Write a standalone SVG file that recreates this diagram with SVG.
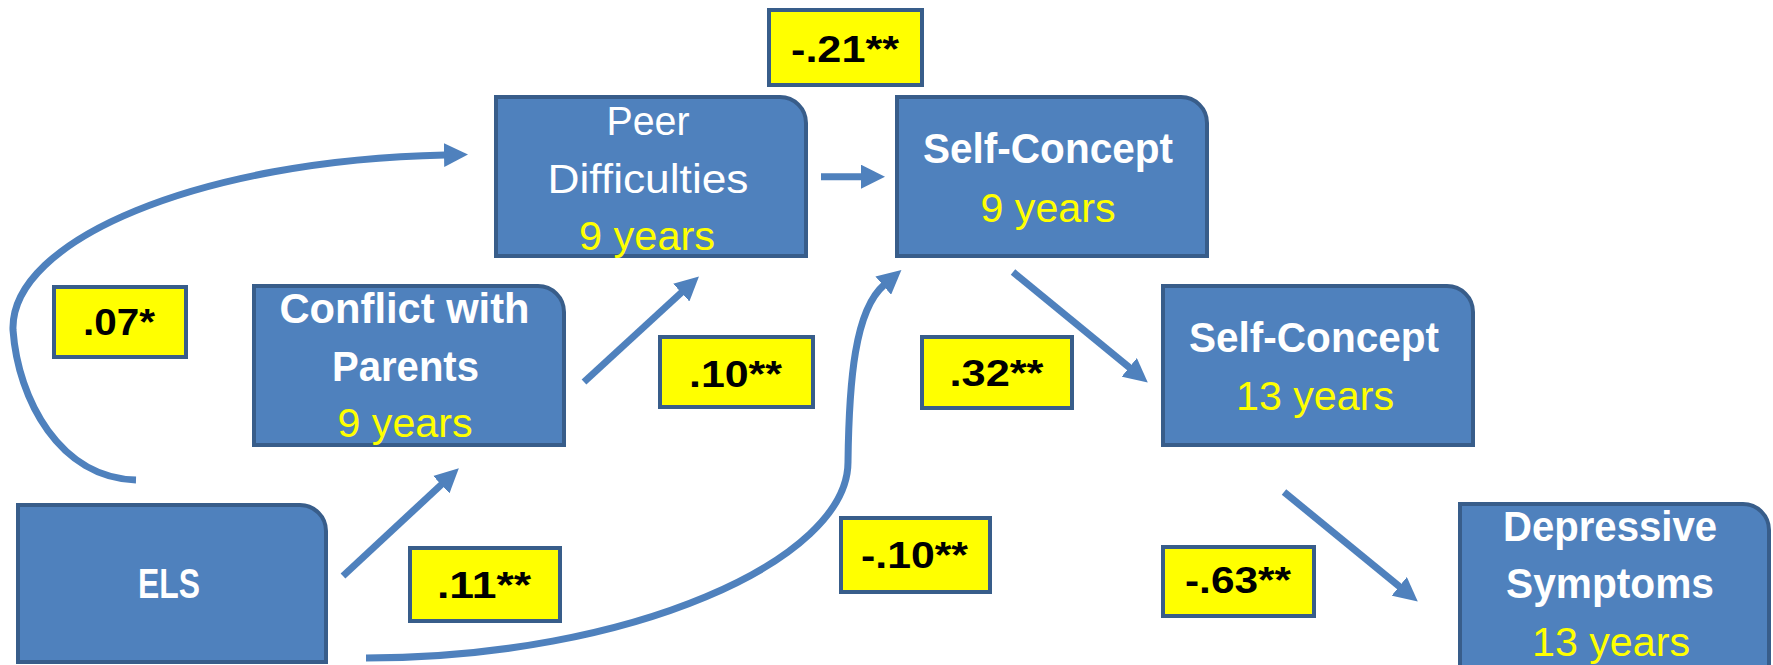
<svg xmlns="http://www.w3.org/2000/svg" width="1773" height="665" viewBox="0 0 1773 665">
<style>
.node{fill:#4F81BD;stroke:#385D8A;stroke-width:4}
.lab{fill:#FFFF00;stroke:#385D8A;stroke-width:4}
.t{font-family:'Liberation Sans Narrow','Liberation Sans',Arial,sans-serif;text-anchor:middle}
.w{fill:#FFFFFF;font-size:40px}
.wb{fill:#FFFFFF;font-size:42px;font-weight:bold}
.y{fill:#FFFF00;font-size:40px}
.k{fill:#000000;font-size:36px;font-weight:bold}
.c{fill:none;stroke:#4F81BD;stroke-width:7}
</style>
<defs>
<marker id="ah" markerUnits="userSpaceOnUse" markerWidth="24" markerHeight="24" refX="1" refY="12" orient="auto">
<path d="M0,0 L24,12 L0,24 z" fill="#4F81BD"/>
</marker>
</defs>
<rect width="1773" height="665" fill="#FFFFFF"/>
<g id="connectors">
<line class="c" x1="821" y1="176.7" x2="862" y2="176.7" marker-end="url(#ah)"/>
<line class="c" x1="584" y1="382" x2="682" y2="292" marker-end="url(#ah)"/>
<line class="c" x1="343" y1="576" x2="442" y2="484" marker-end="url(#ah)"/>
<line class="c" x1="1013" y1="272" x2="1130" y2="368" marker-end="url(#ah)"/>
<line class="c" x1="1284" y1="492" x2="1400" y2="587" marker-end="url(#ah)"/>
<path class="c" d="M136,480 C60,478 18,400 13,330 C10,240 200,160 445,155" marker-end="url(#ah)"/>
<path class="c" d="M366,658 C630,658 848,560 848,462 C849,380 855,310 884,285" marker-end="url(#ah)"/>
</g>
<g id="node-peer">
<path class="node" d="M496,97 H780 A26,26 0 0 1 806,123 V256 H496 Z"/>
<text class="t w" x="648" y="135" textLength="83" lengthAdjust="spacingAndGlyphs">Peer</text>
<text class="t w" x="648" y="193" textLength="201" lengthAdjust="spacingAndGlyphs">Difficulties</text>
<text class="t y" x="647" y="250" textLength="136" lengthAdjust="spacingAndGlyphs">9 years</text>
</g>
<g id="node-sc9">
<path class="node" d="M897,97 H1181 A26,26 0 0 1 1207,123 V256 H897 Z"/>
<text class="t wb" x="1048" y="163" textLength="250" lengthAdjust="spacingAndGlyphs">Self-Concept</text>
<text class="t y" x="1048" y="222" textLength="135" lengthAdjust="spacingAndGlyphs">9 years</text>
</g>
<g id="node-conflict">
<path class="node" d="M254,286 H538 A26,26 0 0 1 564,312 V445 H254 Z"/>
<text class="t wb" x="404.5" y="323" textLength="250" lengthAdjust="spacingAndGlyphs">Conflict with</text>
<text class="t wb" x="405.5" y="381" textLength="147" lengthAdjust="spacingAndGlyphs">Parents</text>
<text class="t y" x="405" y="437" textLength="135" lengthAdjust="spacingAndGlyphs">9 years</text>
</g>
<g id="node-sc13">
<path class="node" d="M1163,286 H1447 A26,26 0 0 1 1473,312 V445 H1163 Z"/>
<text class="t wb" x="1314" y="352" textLength="250" lengthAdjust="spacingAndGlyphs">Self-Concept</text>
<text class="t y" x="1315" y="410" textLength="158" lengthAdjust="spacingAndGlyphs">13 years</text>
</g>
<g id="node-els">
<path class="node" d="M18,505 H300 A26,26 0 0 1 326,531 V662 H18 Z"/>
<text class="t wb" x="169" y="598" textLength="62" lengthAdjust="spacingAndGlyphs">ELS</text>
</g>
<g id="node-depressive">
<path class="node" d="M1460,504 H1743 A26,26 0 0 1 1769,530 V680 H1460 Z"/>
<text class="t wb" x="1610" y="541" textLength="214" lengthAdjust="spacingAndGlyphs">Depressive</text>
<text class="t wb" x="1610" y="598" textLength="208" lengthAdjust="spacingAndGlyphs">Symptoms</text>
<text class="t y" x="1611" y="656" textLength="158" lengthAdjust="spacingAndGlyphs">13 years</text>
</g>
<g id="label-m21">
<rect class="lab" x="769" y="10" width="153" height="75"/>
<text class="t k" x="845" y="62" textLength="108" lengthAdjust="spacingAndGlyphs">-.21**</text>
</g>
<g id="label-07">
<rect class="lab" x="54" y="287" width="132" height="70"/>
<text class="t k" x="119" y="335" textLength="72" lengthAdjust="spacingAndGlyphs">.07*</text>
</g>
<g id="label-10">
<rect class="lab" x="660" y="337" width="153" height="70"/>
<text class="t k" x="735.5" y="387" textLength="93" lengthAdjust="spacingAndGlyphs">.10**</text>
</g>
<g id="label-11">
<rect class="lab" x="410" y="548" width="150" height="73"/>
<text class="t k" x="484" y="598" textLength="94" lengthAdjust="spacingAndGlyphs">.11**</text>
</g>
<g id="label-m10">
<rect class="lab" x="841" y="518" width="149" height="74"/>
<text class="t k" x="914.5" y="568" textLength="107" lengthAdjust="spacingAndGlyphs">-.10**</text>
</g>
<g id="label-32">
<rect class="lab" x="922" y="337" width="150" height="71"/>
<text class="t k" x="996.5" y="386" textLength="94" lengthAdjust="spacingAndGlyphs">.32**</text>
</g>
<g id="label-m63">
<rect class="lab" x="1163" y="547" width="151" height="69"/>
<text class="t k" x="1238" y="593" textLength="106" lengthAdjust="spacingAndGlyphs">-.63**</text>
</g>
</svg>
